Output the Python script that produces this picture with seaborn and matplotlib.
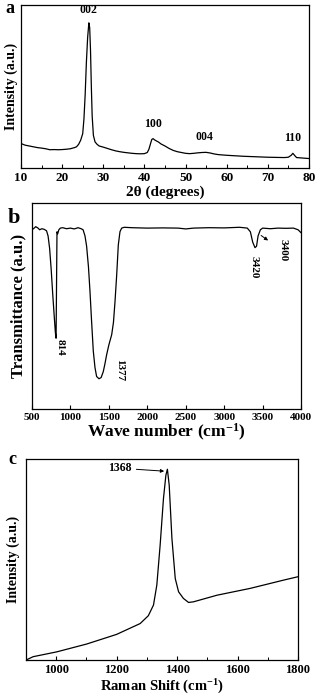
import matplotlib
matplotlib.use("Agg")
import matplotlib.pyplot as plt
import seaborn as sns
from matplotlib.ticker import MultipleLocator, NullLocator

sns.set_theme(style="ticks")
plt.rcParams['font.family'] = ['Liberation Serif', 'DejaVu Serif']
plt.rcParams['font.weight'] = 'bold'
plt.rcParams['axes.labelweight'] = 'bold'
plt.rcParams['axes.labelcolor'] = 'black'
plt.rcParams['text.color'] = 'black'
plt.rcParams['xtick.color'] = 'black'
plt.rcParams['mathtext.fontset'] = 'custom'
plt.rcParams['mathtext.rm'] = 'Liberation Serif:bold'
plt.rcParams['mathtext.it'] = 'Liberation Serif:bold'
plt.rcParams['mathtext.bf'] = 'Liberation Serif:bold'

# ---- Panel a: XRD ----
xrd_2theta = [10, 10.5, 11, 12, 13, 14, 15, 16, 17, 18, 19, 20, 21, 22, 23, 23.5, 24, 24.5, 25,
              25.3, 25.6, 25.9, 26.2, 26.5, 26.7, 26.9, 27.1, 27.3, 27.6, 28, 28.5, 29, 30, 31,
              32, 33, 34, 35, 36, 37, 38, 39, 40, 40.7, 41.1, 41.5, 41.8, 42.1, 42.5, 43, 43.5,
              44, 45, 46, 47, 48, 49, 50, 51, 52, 53, 54, 55, 56, 57, 58, 60, 62, 64, 66, 68,
              70, 72, 74, 75, 75.7, 76.1, 76.5, 77, 78, 80]
xrd_intensity = [0.15, 0.145, 0.14, 0.135, 0.13, 0.125, 0.122, 0.118, 0.112, 0.113, 0.112, 0.113,
                 0.115, 0.118, 0.125, 0.13, 0.145, 0.17, 0.21, 0.3, 0.45, 0.65, 0.8, 0.89, 0.86,
                 0.72, 0.5, 0.32, 0.2, 0.16, 0.145, 0.135, 0.128, 0.12, 0.112, 0.105, 0.1, 0.096,
                 0.093, 0.09, 0.088, 0.087, 0.088, 0.095, 0.115, 0.15, 0.175, 0.18, 0.172, 0.165,
                 0.158, 0.148, 0.135, 0.12, 0.108, 0.1, 0.095, 0.09, 0.088, 0.09, 0.093, 0.095,
                 0.096, 0.092, 0.086, 0.082, 0.078, 0.075, 0.072, 0.07, 0.068, 0.066, 0.065,
                 0.064, 0.066, 0.078, 0.09, 0.078, 0.064, 0.062, 0.058]
xrd_peaks = ["002", "100", "004", "110"]
xrd_peak_pos = [26.5, 42.0, 54.5, 76.1]
xrd_peak_lab_y = [0.93, 0.235, 0.155, 0.145]

# ---- Panel b: FTIR ----
ir_wavenumber = [500, 520, 550, 580, 600, 630, 660, 690, 710, 730, 750, 770, 790, 805, 814, 820,
                 826, 835, 850, 870, 900, 950, 1000, 1050, 1100, 1140, 1165, 1190, 1211, 1235,
                 1255, 1275, 1298, 1320, 1341, 1372, 1400, 1428, 1450, 1471, 1500, 1537, 1560,
                 1580, 1602, 1623, 1645, 1667, 1700, 1800, 2000, 2200, 2400, 2500, 2600, 2800,
                 3000, 3200, 3300, 3340, 3370, 3400, 3420, 3440, 3470, 3500, 3600, 3700, 3800,
                 3900, 3960, 4000]
ir_transmittance = [0.87, 0.875, 0.885, 0.878, 0.87, 0.875, 0.872, 0.865, 0.84, 0.78, 0.68, 0.56,
                    0.45, 0.37, 0.343, 0.6, 0.86, 0.85, 0.87, 0.878, 0.88, 0.875, 0.878, 0.874,
                    0.88, 0.875, 0.87, 0.84, 0.79, 0.69, 0.57, 0.43, 0.28, 0.2, 0.157, 0.146,
                    0.152, 0.181, 0.22, 0.262, 0.31, 0.36, 0.42, 0.52, 0.65, 0.796, 0.861, 0.878,
                    0.882, 0.88, 0.878, 0.879, 0.878, 0.874, 0.878, 0.88, 0.879, 0.882, 0.878,
                    0.86, 0.81, 0.783, 0.79, 0.84, 0.87, 0.878, 0.875, 0.878, 0.877, 0.878,
                    0.87, 0.855]
ir_labels = ["814", "1377", "3420", "3400"]
ir_lab_x = [870, 1640, 3390, 3770]
ir_lab_y = [0.30, 0.19, 0.69, 0.77]

# ---- Panel c: Raman ----
raman_shift = [900, 924, 1002, 1101, 1200, 1278, 1305, 1322, 1333, 1344, 1355, 1363, 1368, 1374,
               1383, 1394, 1405, 1421, 1438, 1454, 1532, 1642, 1752, 1800]
raman_intensity = [0.0, 0.017, 0.041, 0.080, 0.128, 0.182, 0.221, 0.274, 0.373, 0.572, 0.804,
                   0.920, 0.950, 0.871, 0.605, 0.406, 0.340, 0.307, 0.287, 0.290, 0.323, 0.357,
                   0.398, 0.415]
raman_peak_label = "1368"

fig = plt.figure(figsize=(3.16, 7.0), dpi=100)
axa = fig.add_axes([0.0665, 0.760, 0.911, 0.233])
axb = fig.add_axes([0.101, 0.416, 0.852, 0.294])
axc = fig.add_axes([0.082, 0.057, 0.861, 0.287])

# a
sns.lineplot(x=xrd_2theta, y=xrd_intensity, ax=axa, color='black', linewidth=0.9)
# b
sns.lineplot(x=ir_wavenumber, y=ir_transmittance, ax=axb, color='black', linewidth=0.9)
# c
sns.lineplot(x=raman_shift, y=raman_intensity, ax=axc, color='black', linewidth=0.9)

for ax in (axa, axb, axc):
    for s in ax.spines.values():
        s.set_linewidth(0.9)
        s.set_color('black')
    ax.yaxis.set_major_locator(NullLocator())
    ax.tick_params(axis='y', left=False, labelleft=False)
    ax.tick_params(axis='x', direction='in', length=3, width=0.8, colors='black', pad=3)
    ax.tick_params(axis='x', which='minor', direction='in', length=2, width=0.7)
    ax.set_ylim(0, 1)

axa.set_xlim(10, 80)
axa.xaxis.set_major_locator(MultipleLocator(10))
axa.xaxis.set_minor_locator(MultipleLocator(5))
axa.tick_params(axis='x', labelsize=9.5)
axa.set_xlabel("2θ (degrees)", fontsize=11, fontweight='bold', labelpad=1)
axa.set_ylabel("Intensity (a.u.)", fontsize=10, fontweight='bold', labelpad=2, color='black')
for lab, px, py in zip(xrd_peaks, xrd_peak_pos, xrd_peak_lab_y):
    axa.text(px, py, lab, ha='center', va='bottom', fontsize=8.5, fontweight='bold')
fig.text(0.018, 1.0, "a", fontsize=13, fontweight='bold', va='top')

axb.set_xlim(500, 4000)
axb.xaxis.set_major_locator(MultipleLocator(500))
axb.tick_params(axis='x', labelsize=8)
axb.set_xlabel("Wave number (cm$^{-1}$)", fontsize=12.5, fontweight='bold', labelpad=0)
axb.set_ylabel("Transmittance (a.u.)", fontsize=12, fontweight='bold', labelpad=4, color='black')
for lab, px, py in zip(ir_labels, ir_lab_x, ir_lab_y):
    axb.text(px, py, lab, ha='center', va='center', rotation=-90, fontsize=8, fontweight='bold')
axb.annotate("", xy=(3600, 0.81), xytext=(3450, 0.85),
             arrowprops=dict(arrowstyle='-|>', color='black', lw=0.7, mutation_scale=5))
fig.text(0.025, 0.703, "b", fontsize=16, fontweight='bold', va='top')

axc.set_xlim(900, 1800)
axc.xaxis.set_major_locator(MultipleLocator(200))
axc.xaxis.set_minor_locator(MultipleLocator(100))
axc.tick_params(axis='x', labelsize=9)
axc.set_xlabel("Raman Shift (cm$^{-1}$)", fontsize=10.5, fontweight='bold', labelpad=1)
axc.set_ylabel("Intensity (a.u.)", fontsize=10, fontweight='bold', labelpad=4, color='black')
axc.annotate(raman_peak_label, xy=(1362, 0.94), xytext=(1250, 0.955),
             ha='right', va='center', fontsize=8.5, fontweight='bold',
             arrowprops=dict(arrowstyle='-|>', color='black', lw=0.7, mutation_scale=5,
                             shrinkA=1, shrinkB=1))
fig.text(0.025, 0.356, "c", fontsize=13, fontweight='bold', va='top')

fig.savefig("out.png", dpi=100)
